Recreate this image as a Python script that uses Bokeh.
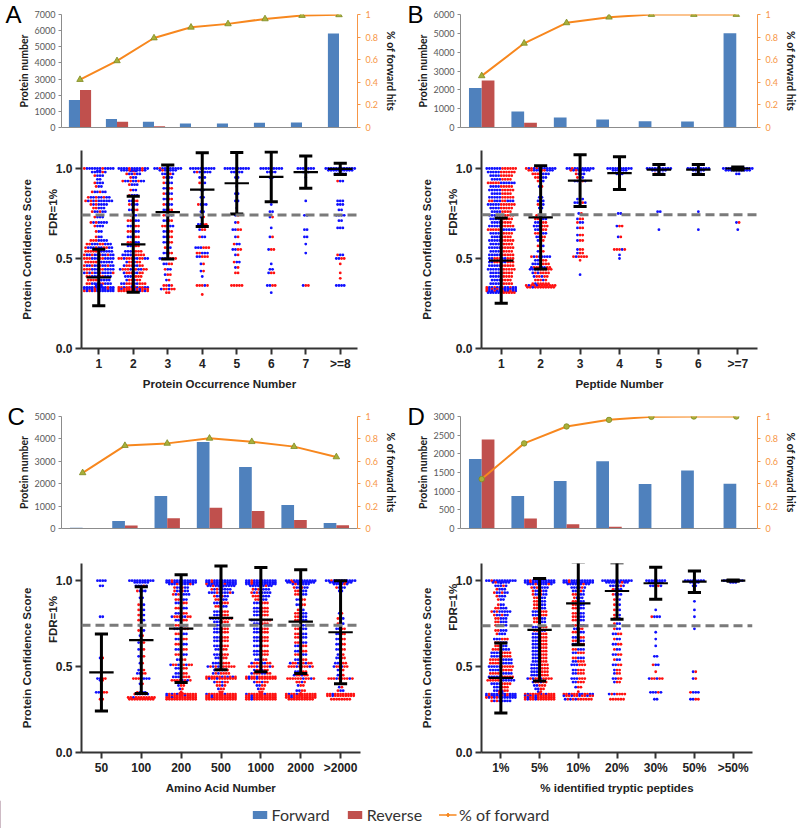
import math
from bokeh.plotting import figure
from bokeh.models import (Range1d, LinearAxis, FixedTicker, Span, Legend,
                          LegendItem, ColumnDataSource, Title)
from bokeh.layouts import column, row
from bokeh.embed import file_html
from bokeh.resources import INLINE

# ---------------- data: top bar charts ----------------
A_CATS = ["1", "2", "3", "4", "5", "6", "7", ">=8"]
A_FWD = [1700, 520, 350, 250, 250, 290, 310, 5820]
A_REV = [2330, 350, 80, 0, 0, 0, 0, 0]
A_PCT = [0.424, 0.59, 0.792, 0.887, 0.917, 0.961, 0.991, 0.997]

B_CATS = ["1", "2", "3", "4", "5", "6", ">=7"]
B_FWD = [2100, 855, 534, 427, 338, 320, 5000]
B_REV = [2490, 250, 20, 0, 0, 0, 0]
B_PCT = [0.457, 0.745, 0.926, 0.976, 1.0, 1.0, 1.0]

C_CATS = ["50", "100", "200", "500", "1000", "2000", ">2000"]
C_FWD = [30, 340, 1450, 3860, 2750, 1050, 250]
C_REV = [15, 130, 460, 930, 780, 385, 150]
C_PCT = [0.497, 0.74, 0.76, 0.805, 0.775, 0.731, 0.639]

D_CATS = ["1%", "5%", "10%", "20%", "30%", "50%", ">50%"]
D_FWD = [1863, 870, 1269, 1801, 1189, 1553, 1198]
D_REV = [2387, 266, 115, 44, 0, 0, 0]
D_PCT = [0.441, 0.76, 0.911, 0.97, 0.997, 1.0, 1.0]

PANEL_LETTERS = ["A", "B", "C", "D"]

# ---------------- data: score summaries (mean, SD) ----------------
A_MEAN = [0.395, 0.579, 0.758, 0.883, 0.918, 0.953, 0.980, 0.998]
A_SD = [0.157, 0.267, 0.261, 0.205, 0.171, 0.138, 0.090, 0.031]
B_MEAN = [0.488, 0.728, 0.933, 0.974, 0.994, 0.994, 1.0]
B_SD = [0.237, 0.287, 0.144, 0.091, 0.028, 0.028, 0.008]
C_MEAN = [0.466, 0.654, 0.721, 0.784, 0.773, 0.762, 0.700]
C_SD = [0.224, 0.311, 0.313, 0.302, 0.303, 0.302, 0.300]
D_MEAN = [0.434, 0.714, 0.868, 0.940, 0.985, 0.994, 1.0]
D_SD = [0.204, 0.298, 0.241, 0.164, 0.093, 0.063, 0.004]
FDR_CUT = [0.741, 0.743, 0.741, 0.737]

# ---------------- data: score distributions (score, n forward, n reverse) ----------------
A_SWARM = [
    [(1.00, 12, 2), (0.98, 5, 1), (0.96, 3, 1), (0.94, 2, 0), (0.92, 3, 1), (0.90, 2, 1),
     (0.87, 4, 2), (0.84, 6, 3), (0.82, 8, 3), (0.80, 5, 2), (0.78, 3, 2), (0.76, 4, 2),
     (0.73, 3, 1), (0.70, 5, 2), (0.68, 3, 1), (0.65, 2, 1), (0.62, 2, 1), (0.60, 4, 3),
     (0.58, 6, 4), (0.56, 7, 4), (0.54, 6, 5), (0.52, 8, 4), (0.50, 7, 5), (0.48, 6, 5),
     (0.46, 8, 4), (0.44, 7, 5), (0.42, 9, 4), (0.40, 6, 4), (0.38, 5, 4), (0.36, 6, 4),
     (0.34, 12, 3), (0.33, 12, 3), (0.32, 10, 3)],
    [(1.00, 12, 3), (0.99, 8, 2), (0.97, 4, 2), (0.95, 2, 1), (0.93, 6, 3), (0.91, 3, 1),
     (0.88, 2, 1), (0.85, 3, 1), (0.82, 2, 2), (0.80, 3, 1), (0.77, 2, 2), (0.74, 2, 1),
     (0.71, 3, 2), (0.68, 2, 3), (0.65, 3, 2), (0.62, 2, 3), (0.59, 3, 2), (0.57, 2, 3),
     (0.54, 3, 4), (0.52, 4, 5), (0.50, 5, 8), (0.48, 2, 4), (0.46, 3, 5), (0.44, 4, 7),
     (0.42, 3, 5), (0.40, 3, 4), (0.38, 2, 4), (0.36, 4, 6), (0.34, 5, 8), (0.33, 4, 10),
     (0.32, 3, 9)],
    [(1.00, 10, 1), (0.99, 6, 1), (0.97, 4, 1), (0.95, 3, 1), (0.92, 3, 1), (0.89, 2, 2),
     (0.86, 3, 1), (0.83, 2, 2), (0.80, 3, 1), (0.77, 2, 2), (0.74, 3, 1), (0.71, 2, 2),
     (0.68, 3, 2), (0.65, 2, 2), (0.62, 2, 2), (0.59, 2, 2), (0.56, 2, 1), (0.53, 2, 2),
     (0.50, 3, 4), (0.47, 2, 2), (0.44, 2, 1), (0.41, 1, 2), (0.38, 1, 1), (0.35, 1, 3),
     (0.33, 2, 4), (0.31, 0, 2)],
    [(1.00, 10, 0), (0.98, 6, 1), (0.95, 3, 0), (0.92, 2, 1), (0.88, 2, 0), (0.84, 2, 0),
     (0.80, 3, 1), (0.76, 2, 0), (0.73, 1, 1), (0.69, 2, 2), (0.66, 1, 2), (0.62, 2, 1),
     (0.56, 3, 3), (0.53, 3, 2), (0.51, 2, 3), (0.47, 1, 1), (0.43, 1, 1), (0.40, 1, 0),
     (0.35, 1, 4), (0.30, 0, 1)],
    [(1.00, 10, 0), (0.98, 5, 0), (0.95, 2, 0), (0.90, 1, 0), (0.86, 2, 0), (0.82, 2, 0),
     (0.78, 1, 0), (0.74, 1, 1), (0.70, 1, 1), (0.66, 2, 2), (0.62, 1, 1), (0.58, 2, 1),
     (0.55, 2, 2), (0.52, 1, 1), (0.48, 2, 1), (0.45, 1, 1), (0.42, 0, 2), (0.35, 0, 5)],
    [(1.00, 9, 0), (0.98, 4, 0), (0.95, 2, 0), (0.80, 1, 0), (0.76, 2, 0), (0.73, 1, 1),
     (0.67, 1, 0), (0.62, 1, 1), (0.55, 1, 2), (0.47, 1, 0), (0.44, 2, 0), (0.42, 1, 2),
     (0.35, 2, 2), (0.31, 1, 0)],
    [(1.00, 7, 0), (0.98, 3, 0), (0.95, 1, 0), (0.82, 1, 0), (0.74, 2, 0), (0.66, 2, 0),
     (0.62, 2, 0), (0.58, 1, 0), (0.53, 1, 0), (0.35, 1, 2)],
    [(1.00, 12, 0), (0.99, 10, 0), (0.97, 5, 0), (0.93, 2, 1), (0.82, 3, 0), (0.80, 3, 0),
     (0.77, 2, 0), (0.74, 4, 0), (0.71, 2, 0), (0.67, 3, 0), (0.52, 2, 1), (0.50, 2, 2),
     (0.47, 0, 1), (0.42, 0, 1), (0.39, 0, 1), (0.35, 4, 0)],
]

B_SWARM = [
    [(1.00, 6, 6), (0.98, 5, 6), (0.96, 4, 5), (0.94, 4, 4), (0.92, 6, 5), (0.90, 4, 5),
     (0.88, 5, 5), (0.86, 4, 4), (0.84, 5, 5), (0.82, 6, 4), (0.80, 5, 6), (0.78, 4, 5),
     (0.76, 4, 4), (0.74, 5, 5), (0.72, 4, 5), (0.70, 4, 4), (0.68, 5, 5), (0.66, 6, 5),
     (0.64, 4, 5), (0.62, 4, 4), (0.60, 5, 5), (0.58, 4, 5), (0.56, 5, 5), (0.54, 4, 5),
     (0.52, 5, 5), (0.50, 4, 6), (0.48, 4, 6), (0.46, 5, 5), (0.44, 5, 6), (0.42, 4, 5),
     (0.40, 4, 5), (0.38, 4, 4), (0.36, 4, 5), (0.34, 8, 4), (0.33, 9, 3), (0.32, 8, 4),
     (0.31, 5, 6)],
    [(1.00, 10, 3), (0.99, 6, 4), (0.97, 4, 3), (0.95, 3, 2), (0.93, 2, 1), (0.90, 1, 1),
     (0.84, 2, 0), (0.82, 3, 0), (0.80, 2, 1), (0.78, 2, 0), (0.74, 3, 1), (0.72, 3, 2),
     (0.70, 2, 3), (0.68, 3, 3), (0.66, 2, 3), (0.64, 3, 2), (0.62, 2, 2), (0.60, 1, 2),
     (0.57, 2, 1), (0.54, 1, 2), (0.51, 6, 2), (0.49, 2, 3), (0.47, 3, 4), (0.45, 3, 5),
     (0.44, 4, 5), (0.42, 2, 5), (0.40, 2, 4), (0.38, 1, 4), (0.36, 1, 6), (0.35, 2, 10),
     (0.34, 1, 10)],
    [(1.00, 10, 1), (0.99, 6, 2), (0.97, 3, 1), (0.95, 2, 1), (0.93, 4, 1), (0.83, 3, 0),
     (0.81, 4, 1), (0.79, 3, 0), (0.75, 1, 1), (0.72, 1, 2), (0.70, 2, 1), (0.67, 1, 2),
     (0.63, 1, 2), (0.60, 1, 2), (0.55, 1, 2), (0.53, 1, 2), (0.51, 1, 5), (0.49, 0, 1),
     (0.41, 1, 0)],
    [(1.00, 10, 0), (0.99, 6, 0), (0.97, 3, 0), (0.95, 1, 0), (0.75, 2, 0), (0.68, 1, 2),
     (0.62, 1, 1), (0.55, 1, 4), (0.52, 1, 0), (0.50, 1, 0)],
    [(1.00, 10, 0), (0.99, 6, 0), (0.97, 3, 1), (0.76, 2, 0), (0.66, 1, 0)],
    [(1.00, 9, 0), (0.99, 5, 0), (0.97, 3, 0), (0.76, 1, 0), (0.66, 1, 0)],
    [(1.00, 12, 0), (0.99, 10, 0), (0.97, 2, 0), (0.70, 1, 1), (0.66, 1, 0)],
]

C_SWARM = [
    [(1.00, 4, 0), (0.97, 2, 0), (0.79, 2, 0), (0.55, 1, 1), (0.43, 2, 2), (0.42, 1, 1),
     (0.35, 2, 3), (0.31, 0, 2)],
    [(1.00, 10, 0), (0.99, 6, 0), (0.97, 4, 1), (0.94, 3, 1), (0.90, 2, 0), (0.86, 2, 1),
     (0.83, 2, 1), (0.80, 2, 1), (0.77, 2, 1), (0.74, 1, 1), (0.71, 2, 1), (0.68, 1, 1),
     (0.64, 1, 2), (0.60, 1, 2), (0.56, 1, 2), (0.52, 1, 1), (0.48, 1, 2), (0.46, 2, 2),
     (0.43, 4, 3), (0.40, 1, 1), (0.35, 3, 1), (0.34, 4, 2), (0.32, 1, 10), (0.31, 0, 10)],
    [(1.00, 12, 1), (0.99, 12, 1), (0.98, 8, 2), (0.96, 4, 2), (0.94, 4, 2), (0.92, 5, 2),
     (0.89, 3, 2), (0.87, 2, 3), (0.84, 3, 2), (0.81, 2, 3), (0.79, 3, 5), (0.77, 2, 3),
     (0.74, 3, 2), (0.72, 3, 3), (0.69, 3, 2), (0.66, 2, 3), (0.63, 3, 2), (0.60, 2, 3),
     (0.57, 3, 2), (0.54, 2, 2), (0.51, 3, 6), (0.49, 2, 3), (0.46, 2, 3), (0.44, 3, 4),
     (0.42, 2, 6), (0.39, 1, 2), (0.37, 1, 1), (0.34, 3, 10), (0.33, 2, 12), (0.32, 1, 12),
     (0.31, 0, 12)],
    [(1.00, 12, 1), (0.99, 12, 1), (0.98, 12, 2), (0.97, 10, 1), (0.95, 6, 2), (0.93, 8, 2),
     (0.91, 4, 2), (0.89, 3, 2), (0.87, 3, 3), (0.85, 3, 2), (0.82, 3, 3), (0.80, 3, 3),
     (0.78, 4, 5), (0.76, 3, 3), (0.74, 3, 3), (0.72, 3, 3), (0.70, 3, 3), (0.67, 3, 3),
     (0.65, 3, 3), (0.62, 3, 3), (0.60, 2, 3), (0.57, 3, 3), (0.55, 2, 3), (0.52, 3, 4),
     (0.50, 3, 8), (0.48, 2, 4), (0.46, 2, 5), (0.44, 3, 9), (0.43, 2, 10), (0.41, 2, 4),
     (0.39, 1, 3), (0.37, 1, 2), (0.34, 2, 12), (0.33, 1, 12), (0.32, 1, 12), (0.31, 0, 12)],
    [(1.00, 12, 1), (0.99, 12, 1), (0.98, 12, 1), (0.97, 8, 1), (0.95, 5, 2), (0.93, 6, 2),
     (0.91, 4, 3), (0.89, 3, 2), (0.87, 3, 3), (0.84, 3, 3), (0.82, 3, 3), (0.80, 3, 3),
     (0.77, 4, 4), (0.75, 3, 3), (0.72, 3, 3), (0.70, 3, 3), (0.67, 3, 3), (0.65, 3, 3),
     (0.62, 3, 3), (0.59, 3, 3), (0.57, 3, 3), (0.54, 2, 3), (0.52, 3, 5), (0.50, 2, 8),
     (0.48, 2, 4), (0.46, 3, 5), (0.44, 2, 10), (0.43, 2, 10), (0.41, 2, 4), (0.39, 2, 2),
     (0.37, 1, 2), (0.34, 2, 12), (0.33, 1, 12), (0.32, 1, 12), (0.31, 1, 12)],
    [(1.00, 12, 1), (0.99, 10, 1), (0.98, 6, 1), (0.96, 4, 2), (0.94, 3, 2), (0.92, 3, 2),
     (0.89, 2, 2), (0.86, 2, 2), (0.83, 2, 1), (0.81, 3, 2), (0.79, 3, 2), (0.77, 3, 2),
     (0.74, 3, 2), (0.72, 3, 2), (0.69, 3, 2), (0.67, 3, 2), (0.64, 3, 2), (0.62, 2, 3),
     (0.59, 2, 3), (0.57, 3, 2), (0.54, 2, 3), (0.52, 3, 6), (0.50, 2, 8), (0.47, 2, 3),
     (0.45, 2, 4), (0.43, 2, 9), (0.41, 1, 3), (0.39, 1, 2), (0.36, 2, 2), (0.34, 2, 10),
     (0.33, 1, 12), (0.32, 1, 12), (0.31, 0, 10)],
    [(1.00, 12, 1), (0.99, 8, 1), (0.98, 5, 1), (0.96, 3, 1), (0.94, 2, 0), (0.81, 1, 1),
     (0.78, 2, 1), (0.75, 2, 1), (0.72, 2, 2), (0.69, 2, 2), (0.66, 2, 2), (0.63, 2, 2),
     (0.60, 2, 2), (0.57, 1, 2), (0.55, 2, 2), (0.52, 2, 3), (0.50, 2, 4), (0.48, 1, 2),
     (0.45, 1, 2), (0.43, 2, 8), (0.38, 1, 1), (0.36, 2, 1), (0.34, 1, 10), (0.33, 1, 10),
     (0.31, 0, 8)],
]

D_SWARM = [
    [(1.00, 12, 1), (0.99, 6, 1), (0.97, 4, 1), (0.95, 3, 1), (0.93, 4, 2), (0.91, 3, 1),
     (0.89, 2, 1), (0.86, 2, 1), (0.84, 3, 2), (0.82, 6, 2), (0.80, 4, 2), (0.78, 3, 2),
     (0.76, 3, 2), (0.74, 3, 2), (0.71, 3, 2), (0.69, 3, 1), (0.66, 3, 3), (0.64, 3, 2),
     (0.62, 3, 2), (0.60, 4, 3), (0.58, 4, 4), (0.56, 4, 4), (0.54, 5, 4), (0.52, 5, 4),
     (0.50, 5, 5), (0.48, 4, 5), (0.46, 5, 4), (0.44, 5, 5), (0.42, 6, 5), (0.40, 4, 4),
     (0.38, 3, 3), (0.36, 3, 3), (0.34, 10, 4), (0.33, 10, 4), (0.32, 10, 3), (0.30, 6, 2)],
    [(1.00, 12, 1), (0.99, 12, 1), (0.98, 8, 2), (0.96, 5, 2), (0.94, 4, 2), (0.92, 4, 2),
     (0.90, 3, 2), (0.88, 3, 2), (0.86, 3, 2), (0.84, 3, 2), (0.82, 3, 3), (0.80, 3, 3),
     (0.78, 3, 2), (0.76, 3, 2), (0.73, 3, 3), (0.71, 3, 2), (0.69, 3, 3), (0.67, 3, 3),
     (0.65, 3, 3), (0.63, 3, 3), (0.61, 3, 3), (0.59, 3, 3), (0.57, 3, 3), (0.55, 3, 3),
     (0.53, 3, 3), (0.51, 3, 4), (0.49, 3, 4), (0.47, 3, 4), (0.45, 3, 4), (0.43, 3, 7),
     (0.41, 2, 4), (0.39, 2, 3), (0.37, 2, 2), (0.34, 4, 10), (0.33, 3, 10), (0.32, 2, 10),
     (0.31, 2, 10)],
    [(1.00, 12, 1), (0.99, 12, 1), (0.98, 8, 1), (0.96, 5, 1), (0.94, 4, 1), (0.92, 3, 2),
     (0.90, 3, 1), (0.88, 3, 2), (0.86, 3, 2), (0.84, 3, 2), (0.81, 3, 2), (0.79, 3, 2),
     (0.77, 3, 2), (0.74, 3, 2), (0.72, 2, 2), (0.70, 3, 2), (0.67, 2, 3), (0.65, 3, 2),
     (0.63, 2, 3), (0.60, 3, 2), (0.58, 2, 3), (0.55, 3, 2), (0.53, 2, 3), (0.51, 3, 3),
     (0.48, 2, 3), (0.46, 2, 3), (0.43, 3, 3), (0.41, 2, 3), (0.38, 1, 2), (0.34, 5, 8),
     (0.33, 4, 8), (0.31, 3, 8)],
    [(1.00, 12, 0), (0.99, 8, 1), (0.97, 5, 1), (0.95, 3, 1), (0.92, 3, 1), (0.89, 2, 1),
     (0.86, 2, 1), (0.83, 2, 1), (0.80, 2, 1), (0.78, 2, 1), (0.75, 2, 1), (0.72, 2, 1),
     (0.69, 2, 2), (0.66, 2, 1), (0.63, 2, 2), (0.60, 2, 1), (0.57, 2, 2), (0.54, 2, 1),
     (0.51, 2, 2), (0.48, 1, 2), (0.46, 1, 2), (0.43, 2, 2), (0.41, 1, 2), (0.34, 2, 5),
     (0.31, 0, 6)],
    [(1.00, 8, 0), (0.99, 6, 0), (0.97, 4, 1), (0.83, 1, 0), (0.79, 3, 1), (0.70, 1, 0),
     (0.66, 1, 0), (0.62, 1, 0), (0.56, 2, 0), (0.51, 2, 1), (0.47, 0, 1), (0.43, 2, 4),
     (0.35, 4, 1), (0.31, 2, 0)],
    [(1.00, 8, 0), (0.99, 4, 0), (0.97, 2, 0), (0.88, 1, 0), (0.83, 1, 0), (0.79, 1, 0),
     (0.72, 1, 0), (0.47, 1, 1), (0.43, 1, 1), (0.35, 3, 1), (0.31, 2, 2)],
    [(1.00, 8, 0), (0.99, 3, 0)],
]

LEGEND_LABELS = ["Forward", "Reverse", "% of forward"]

# ---------------- styles ----------------
BLUE_BAR = "#4F81BD"
RED_BAR = "#C0504D"
ORANGE = "#F7871E"
ORANGE_AX = "#F79646"
MARK_FILL = "#A9B03A"
MARK_LINE = "#7E8A22"
DOT_BLUE = "#1010FF"
DOT_RED = "#FF1010"
GRAY_TXT = "#595959"
GRAY_AX = "#8C8C8C"
XL_FONT = "Lato"
PR_FONT = "Liberation Sans"


def top_panel(fwd, rev, pct, ymax, ystep, marker, msize, letter, let_dx, let_st,
              width, height, bl, br, bt, bb):
    n = len(fwd)
    p = figure(width=width, height=height, x_range=Range1d(0.5, n + 0.5),
               y_range=Range1d(0, ymax), output_backend="svg", toolbar_location=None,
               min_border_left=bl, min_border_right=br, min_border_top=bt,
               min_border_bottom=bb, outline_line_color=None, title=None)
    p.grid.visible = False
    p.extra_y_ranges = {"pct": Range1d(0, 1)}
    xs = list(range(1, n + 1))
    p.vbar(x=[x - 0.15 for x in xs], top=fwd, width=0.3, fill_color=BLUE_BAR,
           line_color=None)
    p.vbar(x=[x + 0.15 for x in xs], top=rev, width=0.3, fill_color=RED_BAR,
           line_color=None)
    p.line(xs, pct, y_range_name="pct", line_color=ORANGE, line_width=2)
    p.scatter(xs, pct, y_range_name="pct", marker=marker, size=msize,
              fill_color=MARK_FILL, line_color=MARK_LINE, line_width=0.8)

    yl = p.yaxis[0]
    yl.ticker = FixedTicker(ticks=list(range(0, ymax + 1, ystep)))
    yl.axis_label = "Protein number"
    yl.axis_label_text_font = XL_FONT
    yl.axis_label_text_font_size = "10.5px"
    yl.axis_label_text_font_style = "bold"
    yl.axis_label_text_color = "#1a1a1a"
    yl.axis_label_standoff = 2
    yl.major_label_text_font = XL_FONT
    yl.major_label_text_font_size = "9px"
    yl.major_label_text_color = GRAY_TXT
    yl.major_label_standoff = 3
    yl.axis_line_color = GRAY_AX
    yl.major_tick_line_color = GRAY_AX
    yl.major_tick_out = 3
    yl.major_tick_in = 0
    yl.minor_tick_line_color = None

    xb = p.xaxis[0]
    xb.ticker = FixedTicker(ticks=[])
    xb.axis_line_color = GRAY_AX
    xb.major_label_text_font_size = "0px"
    xb.minor_tick_line_color = None

    ra = LinearAxis(y_range_name="pct",
                    ticker=FixedTicker(ticks=[0, 0.2, 0.4, 0.6, 0.8, 1]))
    ra.major_label_overrides = {0: "0", 1: "1"}
    ra.axis_label = "% of forward hits"
    ra.axis_label_text_font = XL_FONT
    ra.axis_label_text_font_size = "10.5px"
    ra.axis_label_text_font_style = "bold"
    ra.axis_label_text_color = "#1a1a1a"
    ra.axis_label_standoff = 4
    ra.major_label_text_font = XL_FONT
    ra.major_label_text_font_size = "9px"
    ra.major_label_text_color = ORANGE_AX
    ra.axis_line_color = ORANGE_AX
    ra.major_tick_line_color = ORANGE_AX
    ra.major_tick_out = 3
    ra.major_tick_in = 0
    ra.minor_tick_line_color = None
    p.add_layout(ra, "right")

    # panel letter in the top-left corner
    p.add_layout(Title(text=letter, align="left", offset=let_dx, vertical_align="middle",
                       standoff=let_st, text_font=PR_FONT, text_font_size="24px",
                       text_font_style="normal", text_color="#000000"), "above")
    return p


def swarm_layout(levels, cx, dx, dy, per_row=12):
    xs, ys, cs = [], [], []
    for (v, nf, nr) in levels:
        total = nf + nr
        seq = []
        fi = ri = 0
        for _ in range(total):
            if ri >= nr or (fi < nf and (fi + 0.5) / nf <= (ri + 0.5) / nr):
                seq.append(DOT_BLUE)
                fi += 1
            else:
                seq.append(DOT_RED)
                ri += 1
        nrows = int(math.ceil(total / per_row)) if total else 0
        direction = -1 if v > 0.6 else 1
        for r in range(nrows):
            chunk = seq[r * per_row:(r + 1) * per_row]
            m = len(chunk)
            yrow = v + direction * r * dy
            order = sorted(range(m), key=lambda j: (abs(j - (m - 1) / 2), j))
            for k, j in enumerate(order):
                xs.append(cx + (j - (m - 1) / 2) * dx)
                ys.append(yrow)
                cs.append(chunk[k])
    return xs, ys, cs


def swarm_panel(swarm, means, sds, cats, xtitle, fdr, fdr_drop, width, height,
                bl, br, bt, bb):
    n = len(cats)
    ymax = 1.1
    p = figure(width=width, height=height, x_range=Range1d(0.5, n + 0.5),
               y_range=Range1d(0, ymax), output_backend="svg", toolbar_location=None,
               min_border_left=bl, min_border_right=br, min_border_top=bt,
               min_border_bottom=bb, outline_line_color=None)
    p.grid.visible = False
    frame_w = width - bl - br
    frame_h = height - bt - bb
    ux = frame_w / n
    uy = frame_h / ymax
    dx = 2.8 / ux
    dy = 2.4 / uy

    allx, ally, allc = [], [], []
    for i, lv in enumerate(swarm):
        xs, ys, cs = swarm_layout(lv, i + 1, dx, dy)
        allx += xs
        ally += ys
        allc += cs
    src = ColumnDataSource(dict(x=allx, y=ally, c=allc))
    p.scatter("x", "y", source=src, size=2.8, fill_color="c", line_color=None)

    p.add_layout(Span(location=fdr, dimension="width", line_color="#7A7A7A",
                      line_width=3, line_dash="9 5"))

    xc = list(range(1, n + 1))
    lo = [m - s for m, s in zip(means, sds)]
    hi = [m + s for m, s in zip(means, sds)]
    cap = 7 / ux
    mh = 13 / ux
    p.segment(x0=xc, y0=lo, x1=xc, y1=hi, line_color="black", line_width=3)
    p.segment(x0=[x - cap for x in xc], y0=lo, x1=[x + cap for x in xc], y1=lo,
              line_color="black", line_width=3)
    p.segment(x0=[x - cap for x in xc], y0=hi, x1=[x + cap for x in xc], y1=hi,
              line_color="black", line_width=3)
    p.segment(x0=[x - mh for x in xc], y0=means, x1=[x + mh for x in xc], y1=means,
              line_color="black", line_width=2.2)

    ya = p.yaxis[0]
    ya.ticker = FixedTicker(ticks=[0, 0.5, 1.0])
    ya.major_label_overrides = {0: "0.0", 0.5: "0.5", 1: "1.0"}
    xa = p.xaxis[0]
    xa.ticker = FixedTicker(ticks=xc)
    xa.major_label_overrides = {i + 1: c for i, c in enumerate(cats)}
    xa.axis_label = xtitle
    for ax in (ya, xa):
        ax.axis_line_width = 2
        ax.axis_line_color = "#333333"
        ax.major_tick_line_width = 2
        ax.major_tick_line_color = "#333333"
        ax.major_tick_out = 6
        ax.major_tick_in = 0
        ax.minor_tick_line_color = None
        ax.major_label_text_font = PR_FONT
        ax.major_label_text_font_style = "bold"
        ax.major_label_text_font_size = "12px"
        ax.major_label_text_color = "#222222"
        ax.axis_label_text_font = PR_FONT
        ax.axis_label_text_font_style = "bold"
        ax.axis_label_text_font_size = "11.5px"
        ax.axis_label_text_color = "#222222"
    xa.major_label_standoff = 2
    xa.axis_label_standoff = 4
    ya.major_label_standoff = 3

    # FDR note next to the dashed cut-off, then the y title further out
    p.add_layout(Title(text="FDR=1%", align="left", offset=fdr * uy - fdr_drop,
                       vertical_align="middle", standoff=-40, text_font=PR_FONT,
                       text_font_style="bold", text_font_size="11.5px",
                       text_color="#222222"), "left")
    p.add_layout(Title(text="Protein Confidence Score", align="center",
                       vertical_align="middle", standoff=38, text_font=PR_FONT,
                       text_font_style="bold", text_font_size="11.5px",
                       text_color="#222222"), "left")
    return p


pa_top = top_panel(A_FWD, A_REV, A_PCT, 7000, 1000, "triangle", 6.5, PANEL_LETTERS[0],
                   -56, -30, 400, 140, 61, 40, 14, 13)
pb_top = top_panel(B_FWD, B_REV, B_PCT, 6000, 1000, "triangle", 6.5, PANEL_LETTERS[1],
                   -53, -30, 400, 140, 60, 42, 14, 13)
pa_bot = swarm_panel(A_SWARM, A_MEAN, A_SD, A_CATS, "Protein Occurrence Number",
                     FDR_CUT[0], 21, 400, 260, 63, 43, 10, 52)
pb_bot = swarm_panel(B_SWARM, B_MEAN, B_SD, B_CATS, "Peptide Number",
                     FDR_CUT[1], 21, 400, 260, 63, 43, 10, 52)
pc_top = top_panel(C_FWD, C_REV, C_PCT, 5000, 1000, "triangle", 6.5, PANEL_LETTERS[2],
                   -54, -48, 400, 140, 61, 40, 16, 12)
pd_top = top_panel(D_FWD, D_REV, D_PCT, 3000, 500, "circle", 5.5, PANEL_LETTERS[3],
                   -53, -48, 400, 140, 60, 42, 16, 12)
pc_bot = swarm_panel(C_SWARM, C_MEAN, C_SD, C_CATS, "Amino Acid Number",
                     FDR_CUT[2], 24, 400, 260, 63, 40, 14, 48)
pd_bot = swarm_panel(D_SWARM, D_MEAN, D_SD, D_CATS, "% identified tryptic peptides",
                     FDR_CUT[3], 7, 400, 260, 63, 48, 23, 45)

leg = figure(width=800, height=28, output_backend="svg", toolbar_location=None,
             x_range=Range1d(0, 1), y_range=Range1d(0, 1), x_axis_location=None,
             y_axis_location=None, min_border=0, outline_line_color=None)
leg.grid.visible = False
# legend swatches only (kept outside the visible range)
r_f = leg.vbar(x=[-5], top=[1], width=0.1, fill_color=BLUE_BAR, line_color=None)
r_r = leg.vbar(x=[-5], top=[1], width=0.1, fill_color=RED_BAR, line_color=None)
r_l = leg.line(x=[-5, -4], y=[0.5, 0.5], line_color=ORANGE, line_width=1.5)
r_m = leg.scatter(x=[-5], y=[0.5], marker="diamond", size=5, fill_color=ORANGE,
                  line_color=ORANGE)
legend = Legend(items=[LegendItem(label=LEGEND_LABELS[0], renderers=[r_f]),
                       LegendItem(label=LEGEND_LABELS[1], renderers=[r_r]),
                       LegendItem(label=LEGEND_LABELS[2], renderers=[r_l, r_m])],
                orientation="horizontal", location="center", glyph_width=18,
                glyph_height=10, label_text_font=XL_FONT, label_text_font_size="16px",
                label_text_color="#333333", spacing=16, label_standoff=3, padding=0,
                margin=0, border_line_color=None, background_fill_alpha=0)
leg.add_layout(legend, "center")

layout = column(row(pa_top, pb_top), row(pa_bot, pb_bot),
                row(pc_top, pd_top), row(pc_bot, pd_bot), leg)

open("out.html", "w").write(file_html(layout, INLINE))
